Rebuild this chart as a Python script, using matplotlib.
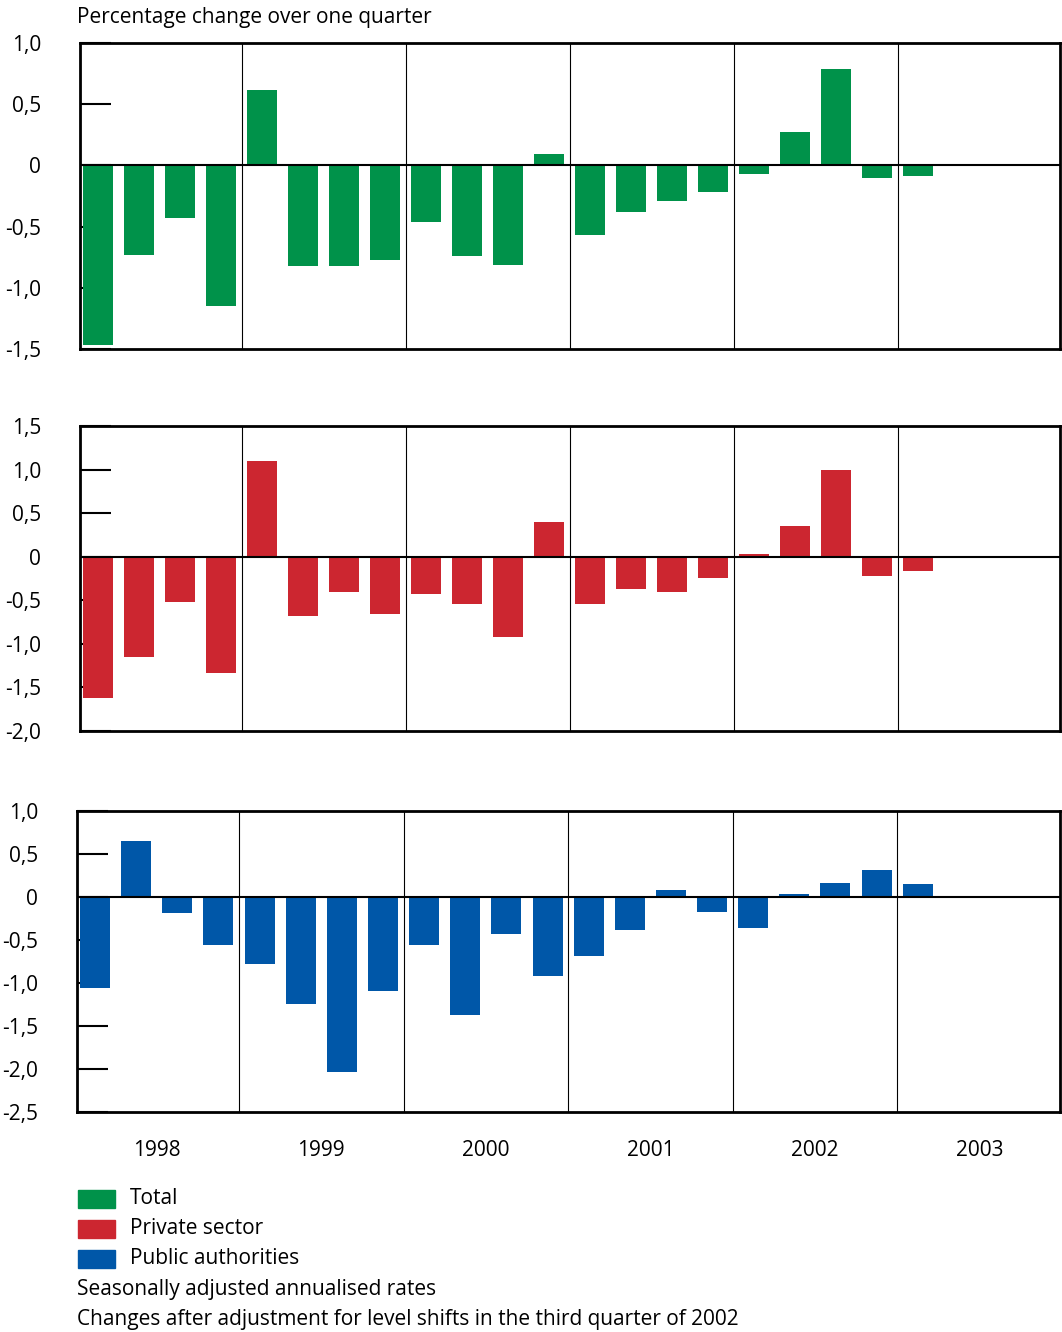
import matplotlib.pyplot as plt
from matplotlib.patches import Rectangle

plt.rcParams['font.family'] = ['Open Sans', 'DejaVu Sans']

years = ["1998", "1999", "2000", "2001", "2002", "2003"]
total = [-1.47, -0.73, -0.43, -1.15, 0.62, -0.82, -0.82, -0.77, -0.46, -0.74, -0.81,
         0.09, -0.57, -0.38, -0.29, -0.22, -0.07, 0.27, 0.79, -0.10, -0.09]
private = [-1.62, -1.15, -0.52, -1.34, 1.10, -0.68, -0.41, -0.66, -0.43, -0.54, -0.92,
           0.40, -0.54, -0.37, -0.40, -0.24, 0.03, 0.35, 1.00, -0.22, -0.16]
public = [-1.06, 0.65, -0.19, -0.56, -0.78, -1.24, -2.03, -1.09, -0.56, -1.37, -0.43,
          -0.92, -0.69, -0.38, 0.08, -0.17, -0.36, 0.03, 0.16, 0.31, 0.15]

green, red, blue = "#00924a", "#cc2630", "#0057a8"
W, H = 1062, 1332
fig = plt.figure(figsize=(W / 100, H / 100), dpi=100)

panels = [
    (total, green, (80, 43, 1060, 349), -1.5, 1.0, [1.0, 0.5, 0, -0.5, -1.0, -1.5]),
    (private, red, (80, 426, 1060, 731), -2.0, 1.5, [1.5, 1.0, 0.5, 0, -0.5, -1.0, -1.5, -2.0]),
    (public, blue, (77, 811, 1060, 1112), -2.5, 1.0, [1.0, 0.5, 0, -0.5, -1.0, -1.5, -2.0, -2.5]),
]

def fmt(v):
    return "0" if v == 0 else ("%.1f" % v).replace(".", ",")

for vals, col, (l, t, r, b), lo, hi, ticks in panels:
    ax = fig.add_axes([l / W, 1 - b / H, (r - l) / W, (b - t) / H])
    x = list(range(len(vals)))
    ax.bar(x, vals, width=0.73, color=col, zorder=2)
    ax.set_xlim(-0.44, 23.46)
    ax.set_ylim(lo, hi)
    ax.axhline(0, color="black", lw=1.5, zorder=3)
    for s in [3.5, 7.5, 11.5, 15.5, 19.5]:
        ax.axvline(s, color="black", lw=0.8, zorder=1)
    ax.set_xticks([])
    ax.set_yticks(ticks)
    ax.set_yticklabels([fmt(v) for v in ticks], fontsize=15)
    ax.tick_params(axis="y", direction="in", length=22, width=1.5, pad=28)
    for sp in ax.spines.values():
        sp.set_linewidth(2)

ax.set_xticks([1.5, 5.5, 9.5, 13.5, 17.5, 21.5])
ax.set_xticklabels(years, fontsize=15)
ax.tick_params(axis="x", length=0, pad=20)

fig.text(77 / W, 1 - 17 / H, "Percentage change over one quarter", fontsize=15, va="center")
legend = [("Total", green), ("Private sector", red), ("Public authorities", blue)]
for i, (lab, col) in enumerate(legend):
    y = 1199 + i * 30
    fig.patches.append(Rectangle((78 / W, 1 - (y + 9) / H), 37 / W, 18 / H,
                                 color=col, transform=fig.transFigure))
    fig.text(130 / W, 1 - y / H, lab, fontsize=15, va="center")
fig.text(77 / W, 1 - 1289 / H, "Seasonally adjusted annualised rates", fontsize=15, va="center")
fig.text(77 / W, 1 - 1319 / H, "Changes after adjustment for level shifts in the third quarter of 2002",
         fontsize=15, va="center")

fig.savefig("out.png", dpi=100)
